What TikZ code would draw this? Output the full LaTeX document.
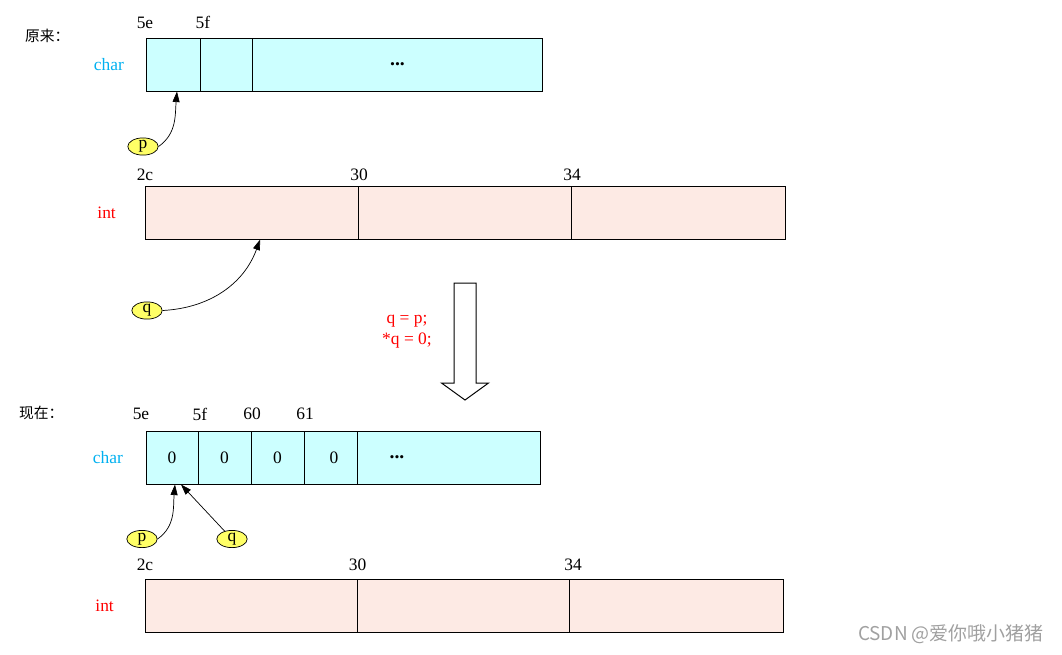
\documentclass[tikz,border=0pt]{standalone}
\usepackage{fontspec}
\setmainfont{Liberation Serif}
\newfontfamily\cjk{Noto Sans CJK SC}
\usetikzlibrary{shapes.geometric,arrows.meta}
\definecolor{charfill}{HTML}{CCFFFF}
\definecolor{intfill}{HTML}{FDEAE4}
\definecolor{ptrfill}{HTML}{FFFF66}
\definecolor{charblue}{HTML}{00B0F0}
\definecolor{codered}{HTML}{FF0000}
\definecolor{markgray}{HTML}{A0A0A0}
\begin{document}
\begin{tikzpicture}[
        x=0.025cm, y=-0.025cm,
        line width=0.7pt,
        font=\fontsize{12.4}{14.5}\selectfont
    ]
    \tikzset{
        cellc/.style = {rectangle, draw=black, fill=charfill, minimum height=1.325cm, inner sep=0pt},
        celli/.style = {rectangle, draw=black, fill=intfill, minimum height=1.325cm, inner sep=0pt},
        ptr/.style = {ellipse, draw=black, fill=ptrfill, line width=0.5pt, minimum width=0.76cm, minimum height=0.43cm, inner sep=0pt},
        typec/.style = {anchor=east, text=charblue},
        typei/.style = {anchor=east, text=codered},
        title/.style = {anchor=west, font=\cjk\fontsize{10.5}{12}\selectfont},
        more/.style = {font=\fontsize{14}{16}\selectfont\bfseries},
        edgep/.style = {-{Triangle[length=7.5pt,width=5pt]}, line width=0.5pt},
    }
    \useasboundingbox (0,0) rectangle (1062,654);
    % before
    \node[title] at (20,36) (before) {原来：};
    \node[typec] at (129,64.5) (tca) {char};
    \node[cellc, minimum width=1.35cm] at (173,64.5) (ca1) {};
    \node[cellc, minimum width=1.325cm] at (226.5,64.5) (ca2) {};
    \node[cellc, minimum width=7.225cm, more] at (397.5,64.5) (ca3) {...};
    \node at (145,22.5) (aa1) {5e};
    \node at (203,22.5) (aa2) {5f};
    %
    \node[typei] at (121,212.5) (tia) {int};
    \node[celli, minimum width=5.325cm] at (252.5,212.5) (ia1) {};
    \node[celli, minimum width=5.325cm] at (465.5,212.5) (ia2) {};
    \node[celli, minimum width=5.325cm] at (678.5,212.5) (ia3) {};
    \node at (145,175) (ai1) {2c};
    \node at (359,175) (ai2) {30};
    \node at (572,175) (ai3) {34};
    %
    \node[ptr] at (143,146.5) (pa) {p};
    \node[ptr] at (147,310.5) (qa) {q};
    \draw[edgep] (pa.east) to[out=35,in=-95] ([xshift=0.1cm]ca1.south);
    \draw[edgep] (qa.east) to[out=3,in=-110] ([xshift=0.19cm]ia1.south);
    % step
    \node[text=codered, align=center] at (407,331.5) (code) {q = p;\\{*}q = 0;};
    \draw[line width=0.7pt] (454,283) -- (476,283) -- (476,383) -- (488.5,383) -- (465,400)
        -- (441.5,383) -- (454,383) -- cycle;
    % after
    \node[title] at (14,413) (after) {现在：};
    \node[typec] at (128,457.5) (tcb) {char};
    \node[cellc, minimum width=1.3cm] at (172,457.5) (cb1) {0};
    \node[cellc, minimum width=1.325cm] at (224.5,457.5) (cb2) {0};
    \node[cellc, minimum width=1.325cm] at (277.5,457.5) (cb3) {0};
    \node[cellc, minimum width=1.35cm] at (331,457.5) (cb4) {\hspace{0.15cm}0};
    \node[cellc, minimum width=4.55cm] at (449,457.5) (cb5) {};
    \node[more] at (397,457.5) (dotsb) {...};
    \node at (141,414) (ab1) {5e};
    \node at (200,414) (ab2) {5f};
    \node at (252,414) (ab3) {60};
    \node at (305,414) (ab4) {61};
    %
    \node[typei] at (119,605.5) (tib) {int};
    \node[celli, minimum width=5.3cm] at (252,605.5) (ib1) {};
    \node[celli, minimum width=5.3cm] at (464,605.5) (ib2) {};
    \node[celli, minimum width=5.325cm] at (676.5,605.5) (ib3) {};
    \node at (145,565) (bi1) {2c};
    \node at (357.5,565) (bi2) {30};
    \node at (573,565) (bi3) {34};
    %
    \node[ptr] at (142,539) (pb) {p};
    \node[ptr] at (232,539) (qb) {q};
    \draw[edgep] (pb.east) to[out=35,in=-95] ([xshift=0.075cm]cb1.south);
    \draw[edgep] (qb) -- ([xshift=0.225cm]cb1.south);
    %
    \node[anchor=east, text=markgray, font=\cjk\fontsize{13.5}{15}\selectfont] at (1049,634) (mark) {CSDN @爱你哦小猪猪};
\end{tikzpicture}
\end{document}
